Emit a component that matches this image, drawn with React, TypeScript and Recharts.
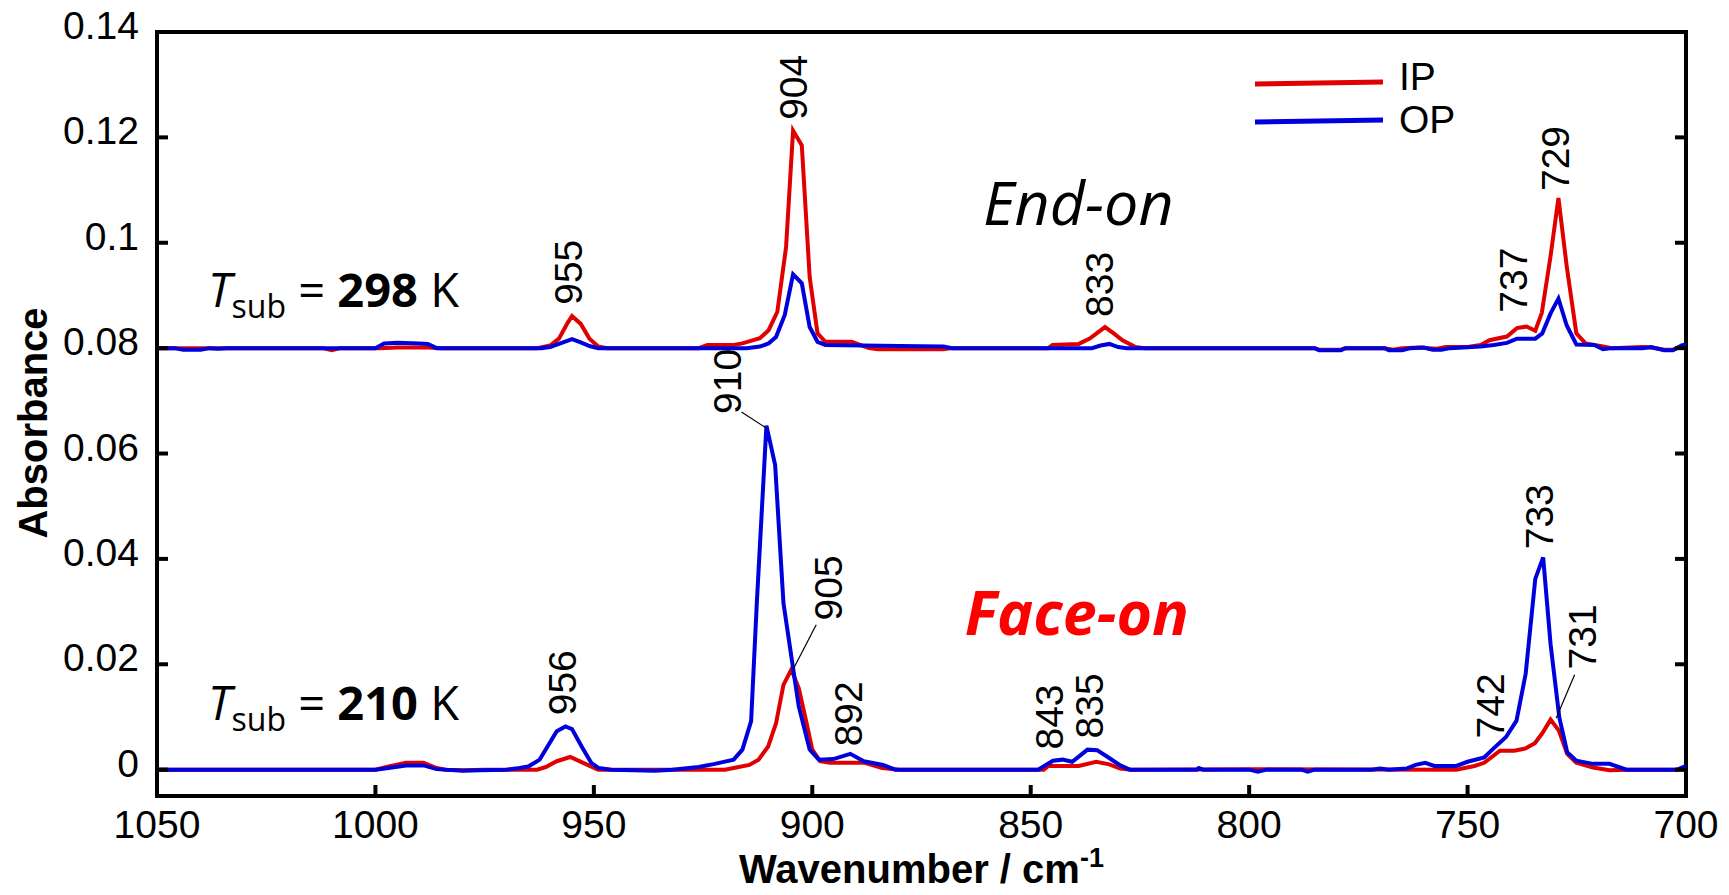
import React from "react";
import {
  Label,
  Legend,
  Line,
  LineChart,
  ReferenceArea,
  ReferenceDot,
  ReferenceLine,
  XAxis,
  YAxis
} from "recharts";

// [wavenumber (cm-1), absorbance]
const endOnIP: [number, number][] = [
  [1050, 0.08], [1040, 0.08], [1012, 0.08], [1010, 0.0796], [1008, 0.08], [999, 0.08],
  [995, 0.0801], [988, 0.0801], [985, 0.08], [963, 0.08], [960, 0.0805], [958, 0.0818],
  [956, 0.0848], [955, 0.0861], [953, 0.0846], [951, 0.0818], [949, 0.0803], [947, 0.08],
  [926, 0.08], [924, 0.0806], [918, 0.0806], [916, 0.0809], [912, 0.0819], [910, 0.0834],
  [908, 0.0869], [906, 0.0992], [904.4, 0.1213], [902.4, 0.1185], [900.6, 0.0935],
  [898.8, 0.0828], [897, 0.0812], [891, 0.0812], [887, 0.08], [885, 0.0798], [870, 0.0798],
  [868, 0.08], [846, 0.08], [845, 0.0806], [839, 0.0808], [836.5, 0.0818], [833, 0.084],
  [831, 0.0828], [829, 0.0815], [826, 0.0802], [824, 0.08], [785, 0.08], [784, 0.0797],
  [779, 0.0797], [778, 0.08], [769, 0.08], [767, 0.0797], [765, 0.08], [761, 0.0801],
  [759, 0.08], [757, 0.0799], [755, 0.0802], [750, 0.0802], [747, 0.0806], [745, 0.0815],
  [741, 0.0822], [738.7, 0.0838], [736.5, 0.0841], [734.5, 0.0833], [733, 0.0867],
  [731, 0.0975], [729.2, 0.1085], [727.3, 0.0955], [725.1, 0.0828], [723, 0.0809],
  [719, 0.0803], [717, 0.08], [710, 0.0802], [708, 0.0801], [705, 0.0797], [703, 0.0797],
  [700, 0.0806]
];

const endOnOP: [number, number][] = [
  [1050, 0.08], [1046, 0.08], [1044, 0.0797], [1040, 0.0797], [1038, 0.08], [1036, 0.0799],
  [1034, 0.08], [1000, 0.08], [998, 0.0809], [995, 0.081], [990, 0.0809], [988, 0.0808],
  [986, 0.08], [962, 0.08], [960, 0.0802], [958, 0.0808], [955, 0.0817], [953, 0.0811],
  [951, 0.0804], [949, 0.08], [915, 0.08], [912, 0.0803], [910, 0.0809], [908.3, 0.0821],
  [906.3, 0.0863], [904.4, 0.094], [902.4, 0.0923], [900.6, 0.084], [898.8, 0.0812],
  [897, 0.0806], [880, 0.0804], [870, 0.0803], [868, 0.08], [836, 0.08], [834, 0.0805],
  [832, 0.0808], [830, 0.0802], [828, 0.08], [785, 0.08], [784, 0.0796], [779, 0.0796],
  [778, 0.08], [769, 0.08], [768, 0.0796], [765, 0.0796], [763, 0.08], [760, 0.0801],
  [758, 0.0797], [756, 0.0797], [754, 0.08], [747, 0.0803], [744, 0.0806], [741, 0.081],
  [738.7, 0.0818], [734.5, 0.0818], [732.9, 0.0828], [731, 0.0866], [729.2, 0.0894],
  [727.3, 0.0843], [725.1, 0.0807], [721, 0.0806], [719, 0.0798], [717, 0.08], [710, 0.08],
  [708, 0.0802], [705, 0.0796], [703, 0.0796], [701, 0.0805], [700, 0.0807]
];

const faceOnIP: [number, number][] = [
  [1050, 0], [1000, 0], [997, 0.0006], [993, 0.0013], [989, 0.0013], [986, 0.0003], [984, 0],
  [980, -0.0001], [975, 0], [963, 0], [961, 0.0005], [958.5, 0.0016], [955.4, 0.0024],
  [951.7, 0.001], [949, 0], [920, 0], [918, 0.0003], [914.4, 0.0009], [912.3, 0.0019],
  [910.1, 0.0044], [908.3, 0.0088], [906.6, 0.0161], [904.8, 0.019], [903.1, 0.0155],
  [901.3, 0.0088], [900, 0.0038], [898.2, 0.0016], [896, 0.0013], [888, 0.0013],
  [884, 0.0003], [880, 0], [847, 0], [846, 0.0007], [839, 0.0007], [835, 0.0015],
  [832, 0.001], [829.5, 0.0002], [827, 0], [799, 0.0001], [755, 0], [752.6, 0],
  [748.4, 0.0007], [746.2, 0.0013], [742.6, 0.0036], [739.3, 0.0036], [736.8, 0.004],
  [734.6, 0.005], [732.9, 0.0069], [731, 0.0095], [729.1, 0.0074], [727.2, 0.003],
  [725.1, 0.0013], [721.3, 0.0004], [717.5, -0.0001], [713, 0], [700, 0]
];

const faceOnOP: [number, number][] = [
  [1050, 0], [1000, 0], [997, 0.0003], [993, 0.0008], [989, 0.0008], [986, 0.0001],
  [980, -0.0002], [976, -0.0001], [970, 0], [967, 0.0003], [965, 0.0006], [962.4, 0.0019],
  [958.5, 0.0073], [956.5, 0.0082], [955, 0.0077], [952.8, 0.0044], [950.6, 0.0013],
  [948.9, 0.0003], [946, 0], [936, -0.0002], [932, 0], [926, 0.0005], [922.3, 0.0011],
  [918, 0.0019], [916, 0.0038], [914, 0.0092], [912.7, 0.0316], [910.5, 0.0653],
  [908.5, 0.0578], [906.6, 0.0316], [904.8, 0.0215], [903.1, 0.012], [900.6, 0.0038],
  [898.5, 0.0019], [895.2, 0.002], [891.3, 0.003], [888.2, 0.0016], [883.8, 0.0009],
  [881, 0], [848.3, 0], [844.9, 0.0017], [842.7, 0.0019], [840.5, 0.0015], [837, 0.0038],
  [834.8, 0.0037], [832.2, 0.0023], [829.5, 0.0008], [827.3, 0], [812, 0], [811.5, 0.0003],
  [810.5, 0], [800, 0], [798, -0.0004], [796, 0], [788, 0], [786.6, -0.0004], [785, 0],
  [772, 0], [770, 0.0002], [768, 0], [764, 0.0002], [761.9, 0.0009], [759.7, 0.0013],
  [757.6, 0.0007], [752.6, 0.0007], [750, 0.0015], [746.2, 0.0023], [744.1, 0.004],
  [741.2, 0.0062], [738.8, 0.0093], [736.7, 0.0182], [734.5, 0.0362], [732.7, 0.0403],
  [731, 0.0238], [729, 0.0099], [727.2, 0.0033], [725.1, 0.0017], [721.3, 0.0011],
  [717.5, 0.0011], [713.6, 0], [705, 0], [702, 0], [700, 0.0007]
];

const waveTicks = [1050, 1000, 950, 900, 850, 800, 750, 700];
const absTicks = [0, 0.02, 0.04, 0.06, 0.08, 0.1, 0.12, 0.14];
const legendNames = ["IP", "OP"];

// peak assignments: label, anchor wavenumber, anchor absorbance
const peakLabels: [string, number, number][] = [
  ["955", 955.7, 0.0944],
  ["904", 904.4, 0.1295],
  ["833", 834.2, 0.0921],
  ["737", 739.4, 0.0929],
  ["729", 729.8, 0.116],
  ["910", 919.5, 0.0737],
  ["956", 957.1, 0.0165],
  ["905", 896.2, 0.0345],
  ["892", 891.6, 0.0106],
  ["843", 845.6, 0.01],
  ["835", 836.5, 0.0121],
  ["742", 744.7, 0.0121],
  ["733", 733.5, 0.048],
  ["731", 723.6, 0.0252]
];

// leader lines from label to peak
const leaders: [number, number, number, number][] = [
  [916.2, 0.0679, 910.5, 0.0648],
  [899.1, 0.0275, 904.4, 0.019],
  [725.5, 0.018, 729.7, 0.0098]
];

const tempLabels: [string, number, number][] = [
  ["298", 1038.3, 0.0878],
  ["210", 1038.3, 0.0095]
];

const RED = "#e00000";
const BLUE = "#0000dd";
const ARIAL = "'Liberation Sans', Arial, sans-serif";
const SEGOE = "'Open Sans', sans-serif";
const TICK = 11;

const toPoints = (arr: [number, number][]) => arr.map(([wn, a]) => ({ wn, a }));

// tick marks point into the plot on all four sides
const BottomTick = ({ x, y, payload }: any) => (
  <g>
    <line x1={x} x2={x} y1={y} y2={y - TICK} stroke="#000" strokeWidth={4} />
    <text x={x} y={y + 42} textAnchor="middle" fontSize={39} fontFamily={ARIAL} fill="#000">
      {payload.value}
    </text>
  </g>
);

const TopTick = ({ x, y }: any) => (
  <line x1={x} x2={x} y1={y} y2={y + TICK} stroke="#000" strokeWidth={4} />
);

const LeftTick = ({ x, y, payload }: any) => (
  <g>
    <line x1={x} x2={x + TICK} y1={y} y2={y} stroke="#000" strokeWidth={4} />
    <text x={x - 18} y={y + 7} textAnchor="end" fontSize={39} fontFamily={ARIAL} fill="#000">
      {String(payload.value)}
    </text>
  </g>
);

const RightTick = ({ x, y }: any) => (
  <line x1={x} x2={x - TICK} y1={y} y2={y} stroke="#000" strokeWidth={4} />
);

const peakShape = (label: string) => (props: any) => (
  <text
    x={props.cx}
    y={props.cy}
    transform={`rotate(-90 ${props.cx} ${props.cy})`}
    textAnchor="middle"
    dominantBaseline="central"
    fontSize={39}
    fontFamily={ARIAL}
    fill="#000"
  >
    {label}
  </text>
);

const tempShape = (temp: string) => (props: any) => (
  <text x={props.cx} y={props.cy} fontFamily={SEGOE} fontSize={47} fill="#000" style={{ whiteSpace: "pre" }}>
    <tspan fontStyle="italic">T</tspan>
    <tspan fontSize={32} dy={11}>sub</tspan>
    <tspan dy={-11}>{" = "}</tspan>
    <tspan fontWeight="bold">{temp}</tspan>
    <tspan>{" K"}</tspan>
  </text>
);

const titleShape = (text: string, color: string, bold: boolean) => (props: any) => (
  <text
    x={props.cx}
    y={props.cy}
    fontFamily={SEGOE}
    fontSize={61}
    fontStyle="italic"
    fontWeight={bold ? "bold" : "normal"}
    fill={color}
  >
    {text}
  </text>
);

const legendColors: Record<string, string> = { IP: RED, OP: BLUE };

const renderLegend = () => (
  <svg width={230} height={110} style={{ overflow: "visible" }}>
    {legendNames.map((name, i) => (
      <g key={name}>
        <line x1={5} x2={133} y1={44 + i * 38} y2={42 + i * 38} stroke={legendColors[name]} strokeWidth={5} />
        <text x={149} y={50 + i * 43} fontSize={39} fontFamily={ARIAL} fill="#000">
          {name}
        </text>
      </g>
    ))}
  </svg>
);

export default function App() {
  return (
    <div style={{ position: "absolute", left: 0, top: 0, width: 1729, height: 895, background: "#fff" }}>
      <LineChart width={1729} height={895} margin={{ top: 31, right: 42, bottom: 0, left: 0 }}>
        <XAxis
          dataKey="wn"
          type="number"
          domain={[700, 1050]}
          reversed
          ticks={waveTicks}
          interval={0}
          allowDataOverflow
          height={99}
          tickSize={0}
          tickMargin={0}
          tick={BottomTick}
          tickLine={false}
          axisLine={false}
        >
          <Label
            content={({ viewBox }: any) => (
              <text
                x={viewBox.x + viewBox.width / 2}
                y={viewBox.y + 87}
                textAnchor="middle"
                fontSize={40}
                fontWeight="bold"
                fontFamily={ARIAL}
                fill="#000"
              >
                Wavenumber / cm
                <tspan fontSize={27} dy={-16}>-1</tspan>
              </text>
            )}
          />
        </XAxis>
        <XAxis
          xAxisId="top"
          orientation="top"
          type="number"
          domain={[700, 1050]}
          reversed
          ticks={waveTicks}
          interval={0}
          allowDataOverflow
          height={1}
          tickSize={0}
          tickMargin={0}
          tick={TopTick}
          tickLine={false}
          axisLine={false}
        />
        <YAxis
          type="number"
          domain={[-0.005, 0.14]}
          ticks={absTicks}
          interval={0}
          allowDataOverflow
          width={157}
          tickSize={0}
          tickMargin={0}
          tick={LeftTick}
          tickLine={false}
          axisLine={false}
        >
          <Label
            content={({ viewBox }: any) => {
              const cx = viewBox.x + 33;
              const cy = viewBox.y + viewBox.height / 2 + 9;
              return (
                <text
                  x={cx}
                  y={cy}
                  transform={`rotate(-90 ${cx} ${cy})`}
                  textAnchor="middle"
                  dominantBaseline="central"
                  fontSize={40}
                  fontWeight="bold"
                  fontFamily={ARIAL}
                  fill="#000"
                >
                  Absorbance
                </text>
              );
            }}
          />
        </YAxis>
        <YAxis
          yAxisId="right"
          orientation="right"
          type="number"
          domain={[-0.005, 0.14]}
          ticks={absTicks}
          interval={0}
          allowDataOverflow
          width={1}
          tickSize={0}
          tickMargin={0}
          tick={RightTick}
          tickLine={false}
          axisLine={false}
        />

        <Line data={toPoints(endOnIP)} dataKey="a" name="IP" type="linear" stroke={RED} strokeWidth={4} dot={false} isAnimationActive={false} />
        <Line data={toPoints(faceOnIP)} dataKey="a" name="IP face-on" type="linear" stroke={RED} strokeWidth={4} dot={false} legendType="none" isAnimationActive={false} />
        <Line data={toPoints(endOnOP)} dataKey="a" name="OP" type="linear" stroke={BLUE} strokeWidth={4} dot={false} isAnimationActive={false} />
        <Line data={toPoints(faceOnOP)} dataKey="a" name="OP face-on" type="linear" stroke={BLUE} strokeWidth={4} dot={false} legendType="none" isAnimationActive={false} />

        {/* plot frame */}
        <ReferenceArea
          x1={1050}
          x2={700}
          y1={-0.005}
          y2={0.14}
          fill="none"
          fillOpacity={0}
          stroke="#000"
          strokeWidth={4}
          strokeOpacity={1}
          ifOverflow="visible"
        />

        {leaders.map(([x1, y1, x2, y2], i) => (
          <ReferenceLine
            key={`leader-${i}`}
            segment={[{ x: x1, y: y1 }, { x: x2, y: y2 }]}
            stroke="#000"
            strokeWidth={1.2}
          />
        ))}
        {peakLabels.map(([label, wn, a]) => (
          <ReferenceDot key={`peak-${label}-${wn}`} x={wn} y={a} r={0} shape={peakShape(label)} />
        ))}
        {tempLabels.map(([t, wn, a]) => (
          <ReferenceDot key={`temp-${t}`} x={wn} y={a} r={0} shape={tempShape(t)} />
        ))}
        <ReferenceDot x={860.9} y={0.1033} r={0} shape={titleShape("End-on", "#000", false)} />
        <ReferenceDot x={865.1} y={0.0256} r={0} shape={titleShape("Face-on", "#ff0000", true)} />

        <Legend
          layout="horizontal"
          verticalAlign="middle"
          align="center"
          content={renderLegend}
          wrapperStyle={{ left: 1250, top: 40, width: 230, height: 110 }}
        />
      </LineChart>
    </div>
  );
}
